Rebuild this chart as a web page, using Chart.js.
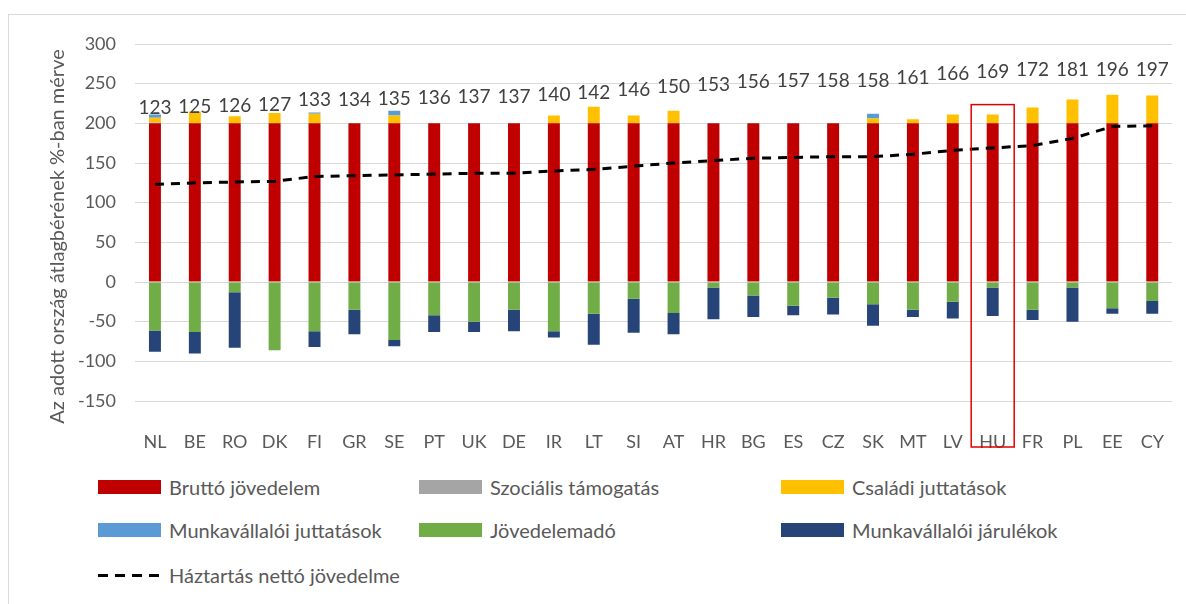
<!DOCTYPE html>
<html>
<head>
<meta charset="utf-8">
<script src="https://cdn.jsdelivr.net/npm/chart.js@4"></script>
<style>
  body { margin: 0; background: #fff; font-family: Lato, sans-serif; }
  .frame { position: absolute; left: 8px; top: 14px; width: 1200px; height: 620px; border: 1px solid #d9d9d9; }
  .wrap { position: absolute; left: 0; top: 0; width: 1186px; height: 460px; }
  .legend { position: absolute; left: 0; top: 470px; width: 1186px; }
  .item { position: absolute; display: flex; align-items: center; color: #595959; font-size: 20px; }
  .sw { width: 63px; height: 14px; margin-right: 8px; }
  .dash { width: 63px; height: 3px; margin-right: 8px;
          background: repeating-linear-gradient(to right, #000 0 10px, transparent 10px 17px); }
</style>
</head>
<body>
<div class="frame"></div>
<div class="wrap"><canvas id="chart" width="1186" height="460"></canvas></div>
<div class="legend" id="legend"></div>
<script>
const countries = ['NL','BE','RO','DK','FI','GR','SE','PT','UK','DE','IR','LT','SI','AT','HR','BG','ES','CZ','SK','MT','LV','HU','FR','PL','EE','CY'];

const gross     = [200,200,200,200,200,200,200,200,200,200,200,200,200,200,200,200,200,200,200,200,200,200,200,200,200,200];
const social    = [1,0,0,0,0,0,0,0,0,0,0,0,0,0,0,0,0,0,0,0,0,0,0,0,0,0];
const family    = [6,15,9,13,12,0,10,0,0,0,10,21,10,16,0,0,0,0,6,5,11,11,20,30,36,35];
const empBenef  = [4,0,0,0,1.5,0,6,0,0,0,0,0,0,0,0,0,0,0,6,0,0,0,0,0,0,0];
const incomeTax = [-61,-63,-13,-86,-62,-35,-73,-42,-50,-35,-62,-40,-21,-39,-7,-17,-30,-20,-28,-35,-25,-7,-35,-7,-33,-24];
const empContr  = [-27,-27,-70,0,-20,-31,-8,-21,-13,-27,-8,-39,-43,-27,-40,-27,-12,-21,-27,-9,-21,-36,-13,-43,-7,-16];
const netIncome = [123,125,126,127,133,134,135,136,137,137,140,142,146,150,153,156,157,158,158,161,166,169,172,181,196,197];

const yTicks = [300,250,200,150,100,50,0,-50,-100,-150];
const yTitle = 'Az adott ország átlagbérének %-ban mérve';
const highlight = 'HU';

const barSets = [
  { label: 'Bruttó jövedelem', data: gross, color: '#C00000' },
  { label: 'Szociális támogatás', data: social, color: '#A5A5A5' },
  { label: 'Családi juttatások', data: family, color: '#FFC000' },
  { label: 'Munkavállalói juttatások', data: empBenef, color: '#5B9BD5' },
  { label: 'Jövedelemadó', data: incomeTax, color: '#70AD47' },
  { label: 'Munkavállalói járulékok', data: empContr, color: '#264478' }
];

const datasets = barSets.map(s => ({
  type: 'bar',
  label: s.label,
  data: s.data,
  backgroundColor: s.color,
  stack: 's',
  order: 1,
  categoryPercentage: 1,
  barPercentage: 0.3
}));

datasets.push({
  type: 'line',
  label: 'Háztartás nettó jövedelme',
  data: netIncome,
  borderColor: '#000',
  borderWidth: 3,
  borderDash: [9, 7],
  pointRadius: 0,
  fill: false,
  order: 0
});

// line labels, y title, and the box round the highlighted country
const extras = {
  id: 'extras',
  afterDatasetsDraw(chart) {
    const ctx = chart.ctx;
    const x = chart.scales.x, y = chart.scales.y;
    const area = chart.chartArea;
    ctx.save();
    ctx.font = '19px Lato';
    ctx.fillStyle = '#404040';
    ctx.textAlign = 'center';
    ctx.textBaseline = 'middle';
    netIncome.forEach((v, i) => {
      ctx.fillText(v, x.getPixelForValue(i), y.getPixelForValue(Math.min(v + 96, 267)));
    });

    ctx.save();
    ctx.translate(58, (area.top + area.bottom) / 2 + 14);
    ctx.rotate(-Math.PI / 2);
    ctx.font = '20px Lato';
    ctx.fillStyle = '#595959';
    ctx.fillText(yTitle, 0, 0);
    ctx.restore();

    const h = countries.indexOf(highlight);
    const cx = x.getPixelForValue(h);
    const topPx = y.getPixelForValue(gross[h] + social[h] + family[h] + empBenef[h]) - 10;
    ctx.strokeStyle = '#E00000';
    ctx.lineWidth = 1.5;
    ctx.strokeRect(cx - 21.5, topPx, 43, area.bottom + 46 - topPx);
    ctx.restore();
  }
};

new Chart(document.getElementById('chart'), {
  data: { labels: countries, datasets: datasets },
  options: {
    responsive: false,
    animation: false,
    layout: { padding: { top: 44, right: 6, left: 0, bottom: 0 } },
    plugins: { legend: { display: false }, tooltip: { enabled: false } },
    scales: {
      x: {
        stacked: true,
        grid: { display: false },
        border: { display: false },
        ticks: { color: '#595959', font: { family: 'Lato', size: 18 }, padding: 22 },
        afterFit(scale) { scale.height = 59; }
      },
      y: {
        stacked: true,
        min: -150,
        max: 300,
        afterBuildTicks(scale) { scale.ticks = yTicks.map(v => ({ value: v })); },
        grid: { color: '#d9d9d9', lineWidth: 1, drawTicks: false },
        border: { display: false },
        ticks: { color: '#595959', font: { family: 'Lato', size: 18 }, padding: 19 },
        afterFit(scale) { scale.width = 135; }
      }
    }
  },
  plugins: [extras]
});

// legend in three columns
const legendItems = barSets.map(s => ({ label: s.label, color: s.color }));
legendItems.push({ label: 'Háztartás nettó jövedelme', dash: true });
const colX = [98, 419, 781];
const rowY = [17, 60, 105];
const legend = document.getElementById('legend');
legendItems.forEach((it, i) => {
  const d = document.createElement('div');
  d.className = 'item';
  d.style.left = colX[i % 3] + 'px';
  d.style.top = (rowY[Math.floor(i / 3)] - 13) + 'px';
  d.style.height = '26px';
  const sw = document.createElement('div');
  if (it.dash) { sw.className = 'dash'; } else { sw.className = 'sw'; sw.style.background = it.color; }
  d.appendChild(sw);
  const t = document.createElement('span');
  t.textContent = it.label;
  d.appendChild(t);
  legend.appendChild(d);
});
</script>
</body>
</html>
